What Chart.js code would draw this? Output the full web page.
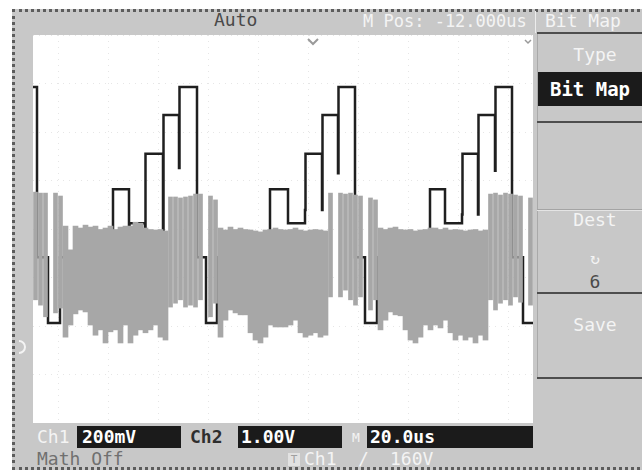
<!DOCTYPE html>
<html>
<head>
<meta charset="utf-8">
<script src="https://cdn.jsdelivr.net/npm/chart.js@4.4.1/dist/chart.umd.min.js"></script>
<style>
  body { margin:0; width:642px; height:473px; background:#fff; overflow:hidden; position:relative;
         font-family:"DejaVu Sans Mono", "Liberation Mono", monospace; }
  .abs { position:absolute; white-space:nowrap; }
  #frame { left:12px; top:9px; width:640px; height:461px; background:#c8c8c8;
           border:3px dotted #5c5c5c; border-right:none; box-sizing:border-box; }
  #plot { left:33px; top:35px; width:500px; height:388px; background:#fff; }
  .t { font-size:18px; line-height:20px; }
  .lt { color:#f4f4f4; }
  .dk { color:#4a4a4a; }
  .box { background:#1b1b1b; color:#fff; font-weight:bold; }
  .line { background:#4e4e4e; }
</style>
</head>
<body>
<div id="frame" class="abs"></div>
<div id="plot" class="abs"><canvas id="scope" width="500" height="388"></canvas></div>

<!-- top status line -->
<div class="abs t dk" style="left:214px; top:10px;">Auto</div>
<div class="abs t lt" style="left:363px; top:11px; font-size:17px;">M Pos: -12.000us</div>
<div class="abs" style="left:535px; top:11px; width:1px; height:22px; background:#ececec;"></div>
<div class="abs t lt" style="left:545px; top:11px;">Bit Map</div>
<div class="abs line" style="left:537px; top:32px; width:105px; height:2px;"></div>

<!-- softkey menu -->
<div class="abs" style="left:537px; top:34px; width:1px; height:345px; background:#a9a9a9;"></div>
<div class="abs t lt" style="left:543px; top:45px; width:104px; text-align:center;">Type</div>
<div class="abs box" style="left:538px; top:72px; width:104px; height:34px; font-size:19px; line-height:34px; text-align:center;">Bit Map</div>
<div class="abs line" style="left:537px; top:121px; width:105px; height:2px;"></div>
<div class="abs" style="left:537px; top:209px; width:105px; height:1px; background:#a4a4a4;"></div>
<div class="abs" style="left:537px; top:210px; width:105px; height:1px; background:#e4e4e4;"></div>
<div class="abs t lt" style="left:543px; top:210px; width:104px; text-align:center;">Dest</div>
<div class="abs t lt" style="left:543px; top:249px; width:104px; text-align:center; font-size:16px;">↻</div>
<div class="abs t dk" style="left:543px; top:272px; width:104px; text-align:center;">6</div>
<div class="abs line" style="left:537px; top:292px; width:105px; height:2px;"></div>
<div class="abs t lt" style="left:543px; top:315px; width:104px; text-align:center;">Save</div>
<div class="abs line" style="left:537px; top:377px; width:105px; height:2px;"></div>

<!-- bottom status lines -->
<div class="abs t lt" style="left:37px; top:427px;">Ch1</div>
<div class="abs box t" style="left:77px; top:426px; width:104px; height:22px; line-height:22px; padding-left:5px; box-sizing:border-box;">200mV</div>
<div class="abs t" style="left:190px; top:427px; color:#2e2e2e; font-weight:bold;">Ch2</div>
<div class="abs box t" style="left:238px; top:426px; width:104px; height:22px; line-height:22px; padding-left:3px; box-sizing:border-box;">1.00V</div>
<div class="abs lt" style="left:352px; top:430px; font-size:13px;">M</div>
<div class="abs box t" style="left:367px; top:426px; width:166px; height:22px; line-height:22px; padding-left:3px; box-sizing:border-box;">20.0us</div>
<div class="abs t" style="left:37px; top:449px; color:#707070;">Math Off</div>
<div class="abs" style="left:288px; top:453px; width:12px; height:13px; background:#e2e2e2; color:#a0a0a0; font-size:11px; line-height:13px; text-align:center;">T</div>
<div class="abs t lt" style="left:304px; top:449px;">Ch1</div>
<div class="abs t lt" style="left:358px; top:449px;">/</div>
<div class="abs t lt" style="left:390px; top:449px;">160V</div>

<!-- trigger / channel markers -->
<svg class="abs" style="left:0; top:0;" width="642" height="473">
  <polyline points="308,39 313,44 318,39" fill="none" stroke="#9a9a9a" stroke-width="2"/>
  <polyline points="525,40 528,43 531,40" fill="none" stroke="#9a9a9a" stroke-width="1.5"/>
  <path d="M19,341 A6,6 0 0 1 19,353" fill="none" stroke="#f4f4f4" stroke-width="2"/>
</svg>

<script>
// Ch2 data signal, sampled every 2us: top and bottom of the trace band (divisions)
const sampleTimes = [
  1, 3, 5, 7, 9, 11, 13, 15, 17, 19, 21, 23, 25, 27, 29, 31, 33, 35, 37, 39,
  41, 43, 45, 47, 49, 51, 53, 55, 57, 59, 61, 63, 65, 67, 69, 71, 73, 75, 77, 79,
  81, 83, 85, 87, 89, 91, 93, 95, 97, 99, 101, 103, 105, 107, 109, 111, 113, 115, 117, 119,
  121, 123, 125, 127, 129, 131, 133, 135, 137, 139, 141, 143, 145, 147, 149, 151, 153, 155, 157, 159,
  161, 163, 165, 167, 169, 171, 173, 175, 177, 179, 181, 183, 185, 187, 189, 191, 193, 195, 197, 199
];
const ch2Top = [
  0.76, 0.74, 0.74, null, 0.74, 0.68, 0.06, -0.43, 0.06, 0.02,
  0.08, 0.04, 0.06, 0.00, 0.02, 0.06, 0.00, 0.04, 0.06, 0.06,
  0.14, 0.12, 0.02, 0.00, -0.02, 0.00, -0.04, 0.66, 0.66, 0.64,
  0.66, 0.68, 0.72, 0.72, null, 0.68, 0.60, 0.02, -0.02, 0.04,
  0.00, 0.02, 0.00, -0.02, -0.04, -0.06, -0.02, 0.00, 0.02, 0.00,
  -0.02, 0.00, 0.02, -0.02, -0.04, -0.02, 0.00, -0.02, -0.04, 0.74,
  null, 0.74, 0.72, 0.74, 0.70, 0.68, null, 0.64, 0.60, 0.02,
  0.00, 0.02, 0.04, 0.00, -0.02, 0.00, -0.04, -0.02, 0.00, 0.02,
  0.02, 0.00, 0.02, -0.02, 0.00, -0.02, -0.04, -0.02, 0.00, -0.04,
  -0.02, 0.72, 0.74, 0.70, 0.74, 0.72, 0.70, 0.68, null, 0.64
];
const ch2Bottom = [
  -1.46, -1.57, -1.81, null, -1.73, -1.63, -2.23, -1.98, -1.75, -1.67,
  -1.71, -1.98, -2.19, -2.08, -2.35, -2.12, -2.08, -2.35, -1.98, -2.35,
  -2.19, -2.08, -2.14, -2.08, -1.98, -2.23, -2.29, -1.61, -1.53, -1.46,
  -1.61, -1.57, -1.61, -1.46, null, -1.81, -1.53, -2.23, -1.88, -1.67,
  -1.73, -1.77, -1.77, -2.14, -2.29, -2.35, -2.23, -1.98, -2.02, -2.02,
  -2.02, -1.98, -1.88, -2.14, -2.23, -2.19, -2.14, -2.23, -2.19, -1.40,
  null, -1.40, -1.26, -1.46, -1.57, -1.40, null, -1.67, -1.46, -2.08,
  -1.88, -1.71, -1.77, -1.79, -2.08, -2.29, -2.35, -2.23, -1.98, -2.08,
  -1.98, -2.04, -1.88, -2.14, -2.29, -2.19, -2.29, -2.23, -2.35, -2.19,
  -2.29, -1.46, -1.67, -1.53, -1.46, -1.57, -1.40, -1.51, null, -1.57
];

// Ch1 staircase: time (us) where each level starts, and the level (divisions)
const ch1Times = [
  0, 1.6, 6.0, 10.8, 32.0, 38.4, 38.6, 44.8, 45.0, 52.0,
  52.2, 58.4, 58.6, 65.6, 69.2, 73.6, 94.8, 102.0, 108.8, 109.0,
  115.6, 115.8, 122.0, 122.2, 128.8, 132.8, 137.6, 158.8, 164.8, 171.6,
  171.8, 178.0, 178.2, 184.8, 185.0, 191.6, 196.0, 200
];
const ch1Levels = [
  2.93, -0.58, -1.94, -0.58, 0.82, -0.16, 0.12, -0.08, 1.55, -0.08,
  2.35, 1.26, 2.93, -0.58, -1.94, -0.58, 0.82, 0.12, 0.39, 1.55,
  0.39, 2.35, 1.15, 2.93, -0.58, -1.94, -0.58, 0.82, 0.12, 0.30,
  1.55, 0.30, 2.35, 1.20, 2.93, -0.58, -1.94, -1.94
];

// high-level bursts are sparser on screen than the low-level ones
const ch2Low = [];
const ch2High = [];
sampleTimes.forEach((t, i) => {
  if (ch2Top[i] === null) return;
  const pt = { x: t, y: [ch2Bottom[i], ch2Top[i]] };
  if (ch2Top[i] > 0.4) ch2High.push(pt); else ch2Low.push(pt);
});
const ch1Data = ch1Times.map((t, i) => ({ x: t, y: ch1Levels[i] }));

const gridStyle = { color: '#e6e6e6', drawTicks: false };

new Chart(document.getElementById('scope'), {
  type: 'bar',
  data: {
    datasets: [
      {
        type: 'bar',
        label: 'CH2',
        data: ch2Low,
        backgroundColor: '#a7a7a7',
        borderWidth: 0,
        barThickness: 5,
        grouped: false,
        order: 0
      },
      {
        type: 'bar',
        label: 'CH2 high',
        data: ch2High,
        backgroundColor: '#a7a7a7',
        borderWidth: 0,
        barThickness: 4,
        grouped: false,
        order: 0
      },
      {
        type: 'line',
        label: 'CH1',
        data: ch1Data,
        borderColor: '#1f1f1f',
        borderWidth: 2.5,
        pointRadius: 0,
        stepped: true,
        fill: false,
        order: 1
      }
    ]
  },
  options: {
    responsive: false,
    animation: false,
    layout: { padding: 0 },
    plugins: { legend: { display: false }, tooltip: { enabled: false } },
    scales: {
      x: {
        type: 'linear', min: 0, max: 200, offset: false,
        ticks: { display: false, stepSize: 20 },
        grid: gridStyle,
        border: { display: false, dash: [1, 5] }
      },
      y: {
        type: 'linear', min: -4, max: 4,
        ticks: { display: false, stepSize: 1 },
        grid: gridStyle,
        border: { display: false, dash: [1, 5] }
      }
    }
  }
});
</script>
</body>
</html>
